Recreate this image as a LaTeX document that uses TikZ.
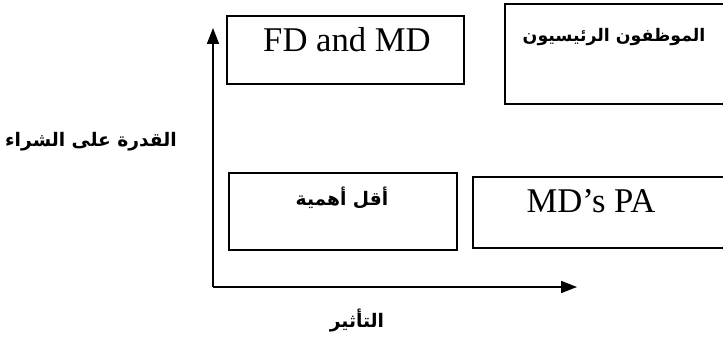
\documentclass[tikz,border=0pt]{standalone}
\usepackage{fontspec}
\setmainfont{Liberation Serif}
\newfontfamily\arabicfont[Script=Arabic,BoldFont={DejaVu Sans Bold}]{DejaVu Sans}
\TeXXeTstate=1
\usepackage{tikz}
\usetikzlibrary{arrows.meta}

\tikzset{
  quadbox/.style={draw, line width=1.5pt},
  axis/.style={line width=1.3pt, -{Triangle[length=12pt,width=9pt]}},
  latin/.style={anchor=base, font=\fontsize{26}{30}\selectfont},
  arab/.style={anchor=base, font=\arabicfont\bfseries\fontsize{14}{17}\selectfont}
}

\begin{document}
\begin{tikzpicture}[x=0.75pt, y=-0.75pt]
      \clip (0, 0) rectangle (723, 341);
      \fill[white] (0, 0) rectangle (723, 341);
      % quadrants
      \draw[quadbox] (227, 16) rectangle (464, 84);
      \draw[quadbox] (505, 4) rectangle (740, 104);
      \draw[quadbox] (229, 173) rectangle (457, 250);
      \draw[quadbox] (473, 177) rectangle (740, 248);
      \node[latin] (fdmd) at (347, 52) {FD and MD};
      \node[arab, font=\arabicfont\bfseries\fontsize{13}{16}\selectfont] (key) at (614, 42) {\beginR الموظفون الرئيسيون\endR};
      \node[arab] (least) at (342, 206) {\beginR أقل أهمية\endR};
      \node[latin] (mdpa) at (591, 213) {MD’s PA};
      % axes
      \coordinate (origin) at (213, 287);
      \coordinate (ytip) at (213, 28);
      \coordinate (xtip) at (577, 287);
      \draw[axis] (origin) -- (ytip);
      \draw[axis] (origin) -- (xtip);
      \node[arab] (power) at (91, 147) {\beginR القدرة على الشراء\endR};
      \node[arab] (impact) at (357, 327) {\beginR التأثير\endR};
    \end{tikzpicture}
\end{document}
